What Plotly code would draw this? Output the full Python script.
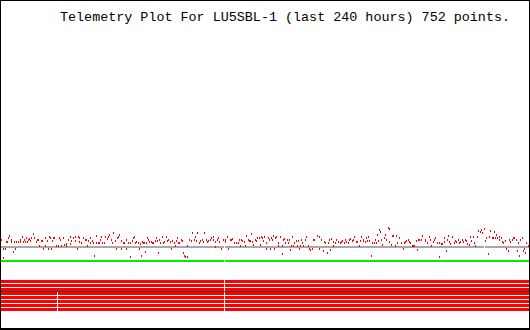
import plotly.graph_objects as go

TITLE = "Telemetry Plot For LU5SBL-1 (last 240 hours) 752 points."

# time axis (hours) and analog readings (raw counts)
analog_hours = [
 0.5,1.5,1.8,2.7,3.0,3.3,3.8,4.5,5.0,5.4,6.0,6.6,7.2,7.6,8.3,9.1,9.4,10.0,10.6,10.9,11.5,11.8,12.4,12.8,13.3,13.9,14.3,15.0,15.4,16.3,
 16.9,17.5,18.1,18.7,19.3,19.6,20.4,20.8,21.4,21.9,22.3,23.0,23.4,23.9,24.2,24.9,25.7,26.4,26.9,27.5,27.9,28.7,29.4,29.9,30.2,31.0,31.7,32.0,32.5,33.2,
 34.0,34.4,35.0,35.5,35.9,36.2,37.0,37.8,38.5,39.0,39.6,40.0,40.8,41.2,41.7,42.3,42.7,43.5,43.8,44.4,45.0,45.3,46.1,46.5,47.1,47.6,
 48.5,49.2,49.8,50.4,51.0,51.3,52.2,52.8,53.3,53.7,54.3,54.8,55.2,55.9,56.3,57.1,57.4,58.0,58.9,59.3,59.8,60.4,60.8,61.3,61.9,62.5,63.1,63.4,64.0,64.6,
 64.9,65.5,65.8,66.4,66.9,67.3,67.9,68.5,69.1,69.7,70.3,71.0,71.4,71.9,72.2,72.8,73.4,74.0,74.4,75.2,75.9,76.4,77.0,77.6,78.2,78.8,79.4,80.0,80.5,80.9,
 81.5,82.1,82.7,83.3,83.6,84.2,84.8,85.1,85.8,86.7,87.3,87.9,88.5,89.1,89.5,90.3,90.9,91.5,92.1,92.7,93.3,93.9,94.5,95.1,95.7,
 96.5,96.8,97.5,97.8,98.3,99.0,99.6,100.2,101.3,102.0,102.3,102.8,103.5,104.3,104.8,105.4,106.3,106.9,107.8,108.4,108.8,109.3,109.9,110.5,111.1,111.7,112.3,112.9,113.4,113.8,
 114.4,115.0,115.6,116.2,116.8,117.4,117.9,118.3,119.0,119.4,119.9,120.5,120.9,121.4,122.0,122.4,122.9,123.5,123.9,124.4,124.7,125.4,125.9,126.2,127.0,127.7,128.0,128.5,128.9,129.5,
 130.0,130.7,131.0,131.5,131.9,132.5,133.0,133.4,134.1,134.5,135.0,135.6,136.0,136.5,137.1,137.5,138.3,138.9,139.5,140.1,140.7,141.3,142.1,142.5,143.6,
 144.5,144.9,145.5,146.4,147.0,147.6,148.2,148.8,149.3,149.7,150.3,150.8,151.2,151.9,152.5,153.1,153.4,154.0,154.6,155.3,155.8,156.4,157.0,157.6,158.3,158.8,159.4,160.0,160.6,161.4,
 162.1,162.7,163.3,163.9,164.4,164.8,165.4,165.9,166.3,167.0,167.4,168.2,168.8,169.4,170.0,170.4,170.9,171.5,171.9,172.4,172.7,173.4,173.9,174.5,175.1,175.7,176.3,176.6,177.2,177.7,
 178.4,179.0,179.5,180.2,181.0,181.8,182.5,183.0,183.6,184.2,184.8,185.4,186.0,186.6,187.2,187.8,188.4,189.0,189.3,190.1,190.8,191.4,
 192.5,192.9,193.5,194.3,195.0,195.6,196.2,196.8,197.4,198.0,198.8,199.2,199.9,200.3,201.1,201.4,202.0,202.6,202.9,203.5,204.1,204.8,205.6,206.3,206.8,207.4,208.0,208.6,209.4,210.1,
 210.7,211.3,211.9,212.4,213.1,213.7,214.3,215.0,215.4,216.2,216.9,217.4,218.0,218.6,219.2,219.8,220.4,221.0,221.6,222.2,222.8,223.4,224.0,224.5,224.9,225.5,226.0,226.4,227.0,227.6,
 228.2,228.8,229.4,230.1,230.7,231.3,231.9,232.5,233.1,233.7,234.3,234.9,235.3,235.8,236.5,237.0,237.6,238.1,238.5,239.1,239.6,
]
analog_values = [
 90,81,72,81,88,88,92,94,88,90,78,88,81,88,88,88,90,93,88,90,88,92,88,90,91,89,92,96,92,88,
 90,90,84,89,89,81,84,92,89,81,93,92,81,89,92,92,84,84,92,90,84,92,85,86,84,90,86,93,89,92,
 93,89,81,93,88,92,87,92,90,90,84,89,92,87,89,87,74,94,87,87,87,90,93,87,87,93,
 91,93,95,90,87,97,89,81,92,93,95,81,89,87,87,81,90,87,87,73,89,92,93,87,88,87,81,86,74,88,
 87,87,78,87,92,90,88,88,87,87,89,92,89,77,90,87,93,87,88,93,89,90,88,81,89,87,84,89,92,87,
 87,90,89,77,74,73,73,84,90,89,97,90,93,89,97,87,89,90,88,97,90,88,89,90,92,
 93,90,88,83,90,92,88,81,90,90,88,93,81,90,90,91,87,87,87,90,84,90,89,88,84,94,90,89,89,96,
 88,85,90,89,92,92,85,93,92,89,93,81,87,92,90,81,92,90,94,81,92,93,84,87,93,84,76,90,91,87,
 90,87,90,80,84,93,84,87,89,84,89,81,84,90,87,84,90,93,84,81,80,81,90,90,94,
 93,81,90,79,88,87,77,87,90,80,91,84,88,87,90,88,88,87,88,89,87,90,88,87,90,91,89,90,93,88,
 88,84,89,93,90,89,88,92,89,93,89,74,87,87,90,87,95,89,100,98,90,85,92,95,90,102,101,88,85,94,
 94,84,94,87,92,87,81,87,88,89,90,88,87,84,84,84,89,80,90,90,90,94,
 89,90,87,93,90,84,88,90,92,87,73,87,86,86,92,88,79,90,94,88,86,93,87,89,88,90,87,88,90,88,
 90,89,86,85,93,89,93,87,84,93,99,98,100,97,101,89,92,76,93,99,92,92,98,92,95,92,90,93,92,88,
 87,89,81,79,90,88,90,92,92,90,79,87,74,90,92,79,81,77,87,84,93,
]

# reference level (gray) and limit level (green), with a data gap
ref_level = 83
limit_level = 69
gap_start_hours = [101.43, 219.15]
gap_end_hours = [101.89, 219.6]

# digital status bits: 8 channels, drawn as stacked bars
bit_levels = [48.5, 44.5, 40.5, 36.5, 32.5, 28.5, 24.5, 20.5]
bit_separator_level = 38.5
bit_gap_short = [25.81, 26.27]   # gap only in channels 4-8
bit_gap_main = [101.43, 101.89]  # gap in all channels

RED = "#ff0000"
fig = go.Figure()

# digital channels
for i, lvl in enumerate(bit_levels):
    if i >= 3:
        xs = [0, bit_gap_short[0], None, bit_gap_short[1], bit_gap_main[0], None, bit_gap_main[1], 240]
        ys = [lvl, lvl, None, lvl, lvl, None, lvl, lvl]
    else:
        xs = [0, bit_gap_main[0], None, bit_gap_main[1], 240]
        ys = [lvl, lvl, None, lvl, lvl]
    fig.add_trace(go.Scatter(x=xs, y=ys, mode="lines", line=dict(color=RED, width=3), connectgaps=False))
fig.add_trace(go.Scatter(x=[0, 240], y=[bit_separator_level] * 2, mode="lines",
                         line=dict(color="#404040", width=1)))

# green limit line
fig.add_trace(go.Scatter(x=[0, gap_start_hours[0], None, gap_end_hours[0], 240],
                         y=[limit_level, limit_level, None, limit_level, limit_level],
                         mode="lines", line=dict(color="#00ee00", width=2)))
# gray reference line
fig.add_trace(go.Scatter(x=[0, gap_start_hours[0], None, gap_end_hours[0], gap_start_hours[1], None, gap_end_hours[1], 240],
                         y=[ref_level, ref_level, None, ref_level, ref_level, None, ref_level, ref_level],
                         mode="lines", line=dict(color="#a8a8a8", width=2)))

# analog readings
fig.add_trace(go.Scatter(x=analog_hours, y=analog_values, mode="markers",
                         marker=dict(symbol="line-ns", size=2, color=RED,
                                     line=dict(color=RED, width=1))))

W, H = 530, 330
fig.update_layout(
    width=W, height=H, margin=dict(l=0, r=0, t=0, b=0),
    paper_bgcolor="white", plot_bgcolor="white", showlegend=False,
    xaxis=dict(range=[0, 240], visible=False, fixedrange=True),
    yaxis=dict(range=[0, 330], visible=False, fixedrange=True),
    annotations=[dict(text=TITLE, xref="paper", yref="paper", x=58 / W, y=1 - 17 / H,
                      xanchor="left", yanchor="middle", showarrow=False,
                      font=dict(family="Liberation Mono", size=13.4, color="black"))],
    shapes=[
        dict(type="rect", xref="paper", yref="paper", x0=0.5 / W, x1=(W - 0.5) / W,
             y0=1.5 / H, y1=1 - 0.5 / H, line=dict(color="black", width=1)),
        dict(type="line", xref="paper", yref="paper", x0=0, x1=1,
             y0=0.5 / H, y1=0.5 / H, line=dict(color="black", width=1)),
    ],
)

post = ("document.body.style.margin='0';"
        "var s=document.createElement('style');"
        "s.innerHTML='path.point,path.js-line,.shapelayer path{shape-rendering:crispEdges}';"
        "document.head.appendChild(s);")
fig.write_html("out.html", config={"staticPlot": True}, post_script=post)
